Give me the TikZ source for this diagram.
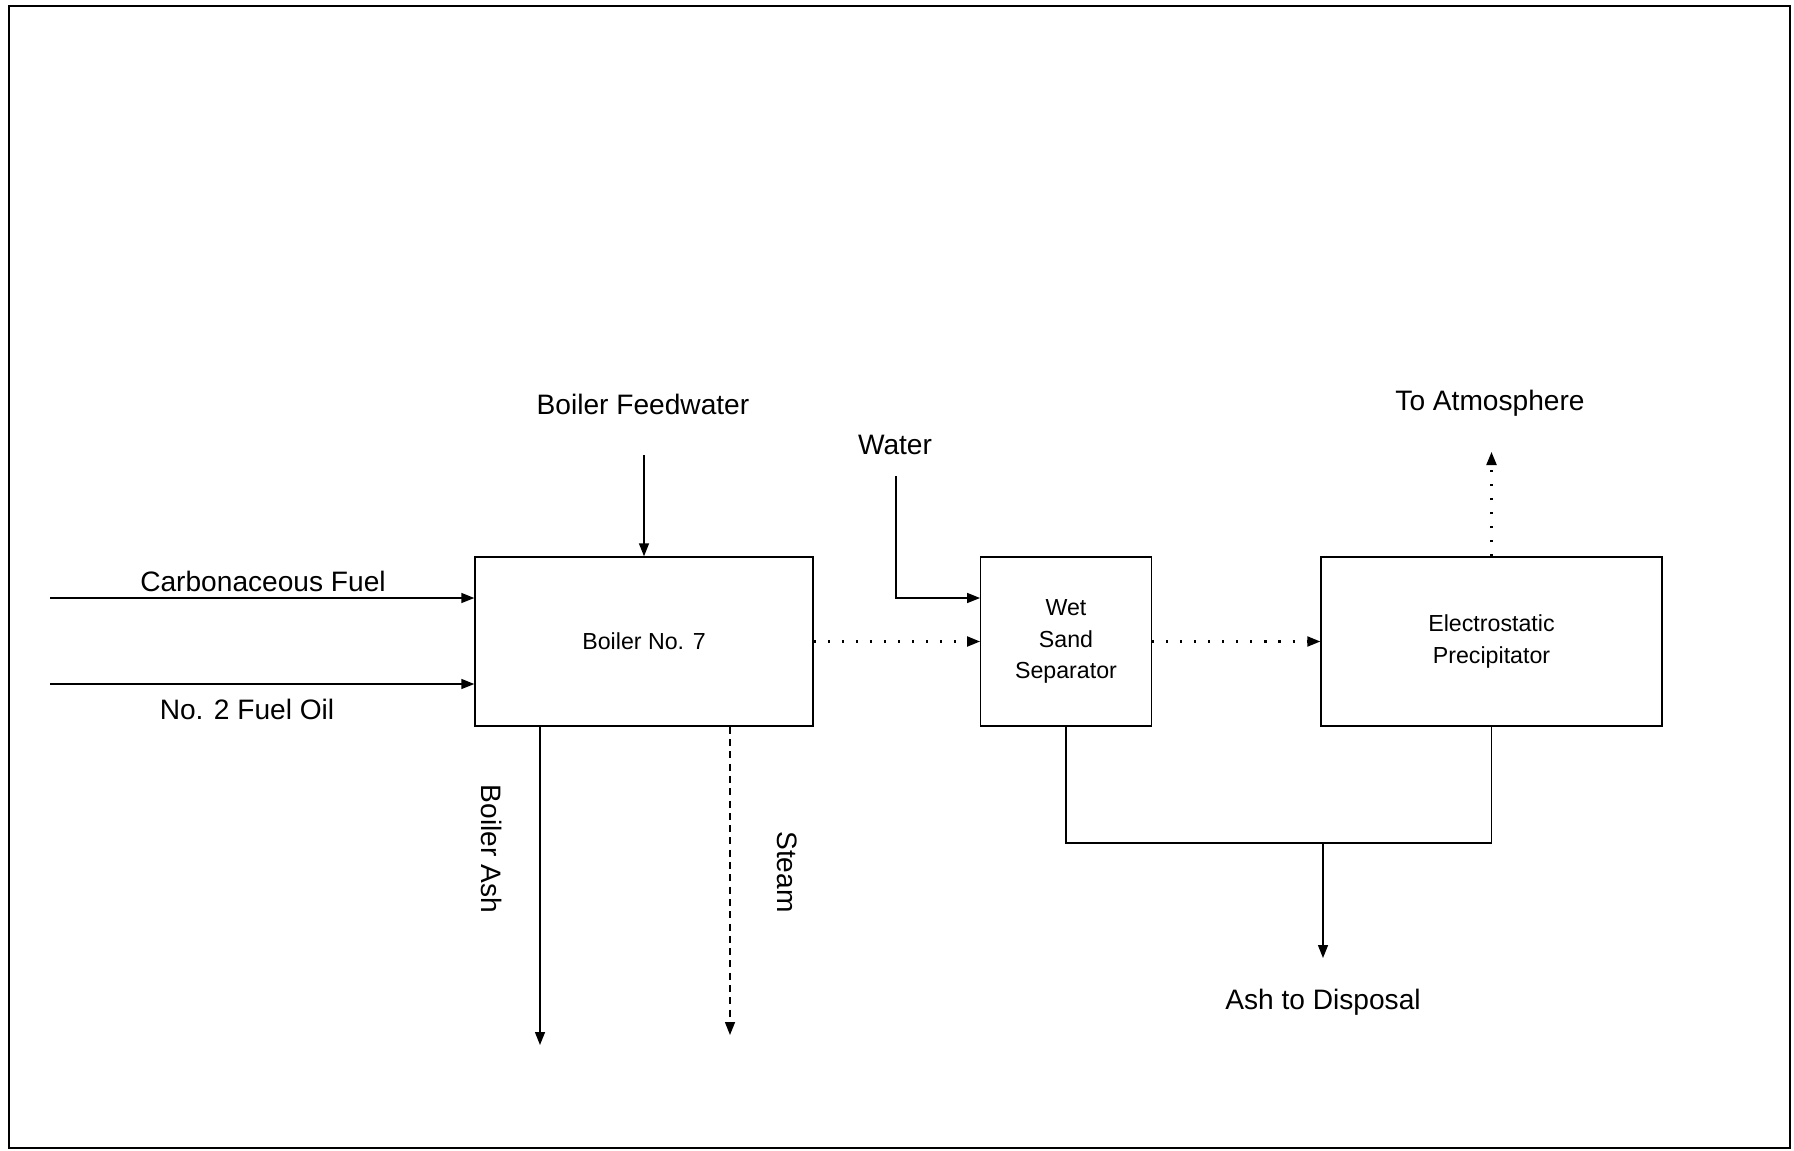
\documentclass[tikz,border=0pt]{standalone}
\usepackage{fontspec}
\setmainfont{Liberation Sans}
\usetikzlibrary{arrows.meta}

\begin{document}
\begin{tikzpicture}[x=0.1mm,y=-0.1mm,
    box/.style={draw,line width=0.4pt,inner sep=0pt,align=center,
      minimum height=16.9mm,font=\fontsize{6.6}{9}\selectfont},
    lbl/.style={inner sep=0pt,font=\fontsize{8}{9.6}\selectfont},
    flow/.style={line width=0.4pt,-{Triangle[length=1.3mm,width=1mm]}},
    gas/.style={flow,line width=0.6pt,dash pattern=on 0.6pt off 3.4pt},
    vap/.style={flow,dash pattern=on 2pt off 1.5pt}]
  \useasboundingbox (0,0) rectangle (1794,1151);
  \draw [line width=0.8pt] (9,6) rectangle (1790,1148);
  % units
  \node [box,minimum width=33.8mm] (boiler) at (644,641.5) {Boiler No. 7};
  \node [box,minimum width=17.05mm] (wss) at (1066,641.5) {Wet\\Sand\\Separator};
  \node [box,minimum width=34.1mm] (esp) at (1491.5,641.5) {Electrostatic\\Precipitator};
  % free ends
  \coordinate (cf) at (50,598);
  \coordinate (fo) at (50,684);
  \coordinate (bfw) at (644,455);
  \coordinate (wat) at (896,476);
  \coordinate (atm) at (1491.5,452);
  \coordinate (ash) at (540,1045);
  \coordinate (stm) at (730,1035);
  \coordinate (bus) at (1323,843);
  \coordinate (disp) at (1323,958);
  % labels
  \node [lbl] (cflbl) at (263,581) {Carbonaceous Fuel};
  \node [lbl] (folbl) at (247,709) {No. 2 Fuel Oil};
  \node [lbl] (bfwlbl) at (643,404) {Boiler Feedwater};
  \node [lbl] (watlbl) at (895,445) {Water};
  \node [lbl] (atmlbl) at (1490,403) {To Atmosphere};
  \node [lbl,rotate=-90] (ashlbl) at (492,849) {Boiler Ash};
  \node [lbl,rotate=-90] (stmlbl) at (787,872) {Steam};
  \node [lbl] (displbl) at (1323,1002) {Ash to Disposal};
  % streams
  \draw [flow] (cf) -- (cf -| boiler.west);
  \draw [flow] (fo) -- (fo -| boiler.west);
  \draw [flow] (bfw) -- (boiler.north);
  \draw [flow] (wat) |- (cf -| wss.west);
  \draw [gas] (boiler.east) -- (wss.west);
  \draw [gas] (wss.east) -- (esp.west);
  \draw [gas] (esp.north) -- (atm);
  \draw [flow] (ash |- boiler.south) -- (ash);
  \draw [vap] (stm |- boiler.south) -- (stm);
  \draw [line width=0.4pt] (wss.south) |- (esp.south |- bus) -- (esp.south);
  \draw [flow] (bus) -- (disp);
\end{tikzpicture}
\end{document}
